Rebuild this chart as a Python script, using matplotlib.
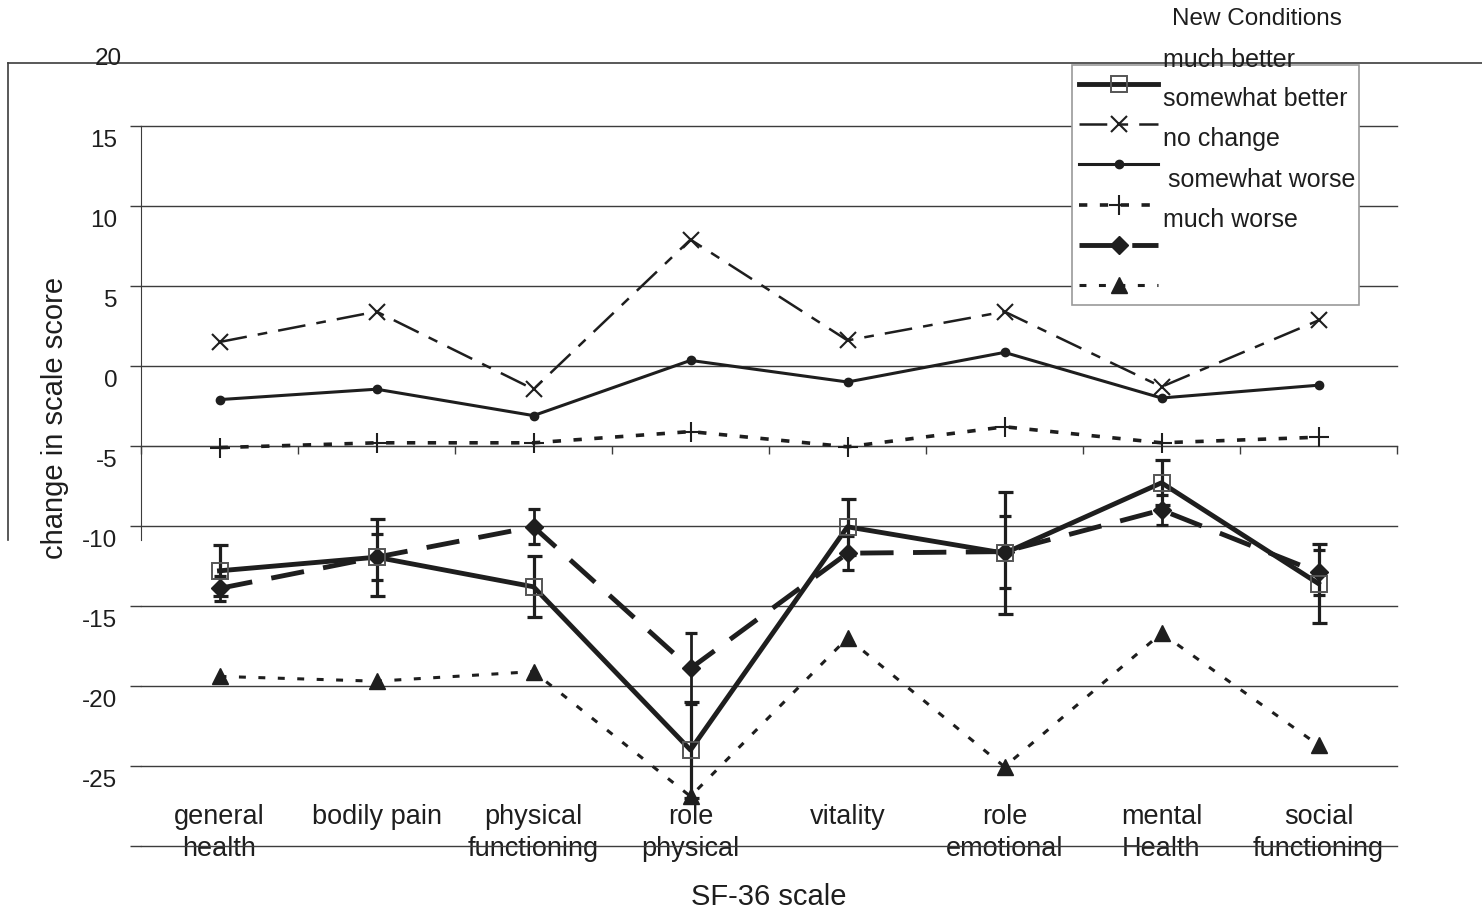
import matplotlib
matplotlib.use('Agg')
import matplotlib.pyplot as plt
from matplotlib.lines import Line2D
from matplotlib.patches import Rectangle
from matplotlib.transforms import ScaledTranslation
import numpy as np

plt.rcParams['font.family'] = ['Liberation Sans', 'DejaVu Sans']
plt.rcParams['lines.scale_dashes'] = False

W, H = 1482, 909
INK = '#1e1e1e'
GRID = '#3c3c3c'

# ---- data ----
categories = ['general\nhealth', 'bodily pain', 'physical\nfunctioning', 'role\nphysical',
              'vitality', 'role\nemotional', 'mental\nHealth', 'social\nfunctioning']

square_vals = [-12.8, -11.95, -13.8, -24.0, -10.05, -11.7, -7.3, -13.6]
square_err = [1.6, 2.4, 1.9, 3.0, 1.75, 3.8, 1.4, 2.45]
cross_vals = [1.5, 3.4, -1.45, 7.9, 1.6, 3.4, -1.3, 2.85]
dot_vals = [-2.1, -1.45, -3.1, 0.35, -1.0, 0.85, -2.0, -1.2]
plus_vals = [-5.1, -4.8, -4.8, -4.1, -5.05, -3.8, -4.8, -4.45]
diamond_vals = [-13.9, -11.95, -10.05, -18.9, -11.7, -11.6, -9.0, -12.9]
diamond_err = [0.8, 1.45, 1.1, 2.2, 1.05, 2.25, 0.95, 1.4]
triangle_vals = [-19.4, -19.7, -19.1, -26.9, -17.0, -25.05, -16.7, -23.7]

legend_title = 'New Conditions'
legend_labels = ['much better', 'somewhat better', 'no change', 'somewhat worse', 'much worse']
y_ticks = [15, 10, 5, 0, -5, -10, -15, -20, -25, -30]

# ---- styles ----
styles = {
    'square': dict(color=INK, lw=3.5, ls='-', marker='s', ms=11, mfc='none', mec='#555555', mew=1.4),
    'cross': dict(color=INK, lw=1.8, dashes=(20, 8, 7, 8), marker='x', ms=12, mew=1.5),
    'dot': dict(color=INK, lw=2.2, ls='-', marker='o', ms=6),
    'plus': dict(color=INK, lw=2.6, dashes=(6, 9), marker='+', ms=14, mew=1.5),
    'diamond': dict(color=INK, lw=3.5, dashes=(24, 14), marker='D', ms=9.5),
    'triangle': dict(color=INK, lw=2.2, dashes=(5, 9), marker='^', ms=12),
}

fig = plt.figure(figsize=(W / 100, H / 100), dpi=100)
fig.patch.set_facecolor('white')
ax = fig.add_axes([141 / W, (H - 846) / H, 1256 / W, 800 / H])

x = np.arange(len(categories)) + 0.5

ax.errorbar(x, square_vals, yerr=square_err, fmt='none', ecolor=INK,
            elinewidth=2.3, capsize=5.4, capthick=2.3, zorder=4)
ax.errorbar(x, diamond_vals, yerr=diamond_err, fmt='none', ecolor=INK,
            elinewidth=2.0, capsize=4.5, capthick=2.3, zorder=4)

ax.plot(x, cross_vals, zorder=3, **styles['cross'])
ax.plot(x, dot_vals, zorder=3, **styles['dot'])
ax.plot(x, plus_vals, zorder=3, **styles['plus'])
ax.plot(x, triangle_vals, zorder=3, **styles['triangle'])
ax.plot(x, diamond_vals, zorder=5, **styles['diamond'])
ax.plot(x, square_vals, zorder=6, **styles['square'])

ax.set_xlim(0, len(categories))
ax.set_ylim(-30, 20)

# y axis: gridlines + outward ticks, labels sit a bit below the lines
ax.set_yticks(y_ticks)
ax.set_yticklabels([str(v) if v != -30 else '' for v in y_ticks])
ax.tick_params(axis='y', length=8, width=1, color=GRID, pad=9,
               labelsize=17.5, labelcolor=INK)
shift = ScaledTranslation(0, -4 / 100, fig.dpi_scale_trans)
for lab in ax.get_yticklabels():
    lab.set_va('top')
    lab.set_transform(lab.get_transform() + shift)
ax.yaxis.grid(True, color=GRID, lw=1)
for gl in ax.get_ygridlines():
    gl.set_clip_on(False)
ax.set_axisbelow(True)

# x axis: spine at -5, boundary ticks, category labels far below
ax.spines['bottom'].set_position(('data', -5))
ax.spines['bottom'].set_color(GRID)
ax.set_xticks(x)
ax.set_xticklabels(categories, linespacing=1.3)
ax.set_xticks(np.arange(len(categories) + 1), minor=True)
ax.tick_params(axis='x', which='major', length=0, pad=258, labelsize=19.5,
               labelcolor=INK)
ax.tick_params(axis='x', which='minor', length=6, width=1, color=GRID,
               direction='out')

for s in ['top', 'right']:
    ax.spines[s].set_visible(False)
ax.spines['left'].set_bounds(-10.9, 15)
ax.spines['left'].set_color(GRID)

ax.set_ylabel('change in scale score', fontsize=21, color=INK)
ax.yaxis.set_label_coords((55 - 141) / 1256, (846 - 418) / 800)
ax.yaxis.label.set_va('center')
ax.set_xlabel('SF-36 scale', fontsize=21, color=INK)
ax.xaxis.set_label_coords(0.5, (846 - 897) / 800)
ax.xaxis.label.set_va('center')

# outer frame lines and stray "20" label
fig.add_artist(Line2D([8 / W, 1.0], [1 - 63 / H] * 2, transform=fig.transFigure,
                      color=GRID, lw=1.2, zorder=1.5))
fig.add_artist(Line2D([8 / W] * 2, [1 - 63 / H, 1 - 540 / H], transform=fig.transFigure,
                      color=GRID, lw=1.2, zorder=1.5))
fig.text(108 / W, 1 - 59 / H, '20', ha='center', va='center', fontsize=17.5, color=INK)

# legend box
fig.add_artist(Rectangle((1072 / W, 1 - 305 / H), 287 / W, 240 / H,
                         transform=fig.transFigure, fc='white', ec='#9a9a9a',
                         lw=1.2, zorder=2))
handles = [Line2D([], [], **styles[k]) for k in
           ['square', 'cross', 'dot', 'plus', 'diamond', 'triangle']]
fig.legend(handles, [' '] * len(handles), loc='upper left',
           bbox_to_anchor=(1079 / W, 1 - 76 / H), bbox_transform=fig.transFigure,
           frameon=False, borderaxespad=0, borderpad=0, fontsize=10,
           handlelength=5.7, handleheight=2.0, labelspacing=1.36,
           handletextpad=0.2)

fig.text(1257 / W, 1 - 19 / H, legend_title, ha='center', va='center',
         fontsize=17.5, color=INK, zorder=4)
label_pos = [(1163, 60), (1163, 99), (1163, 139), (1168, 180), (1163, 220)]
for lab, (px, py) in zip(legend_labels, label_pos):
    fig.text(px / W, 1 - py / H, lab, ha='left', va='center', fontsize=18,
             color=INK, zorder=4)

fig.savefig('out.png', dpi=100, facecolor='white')
